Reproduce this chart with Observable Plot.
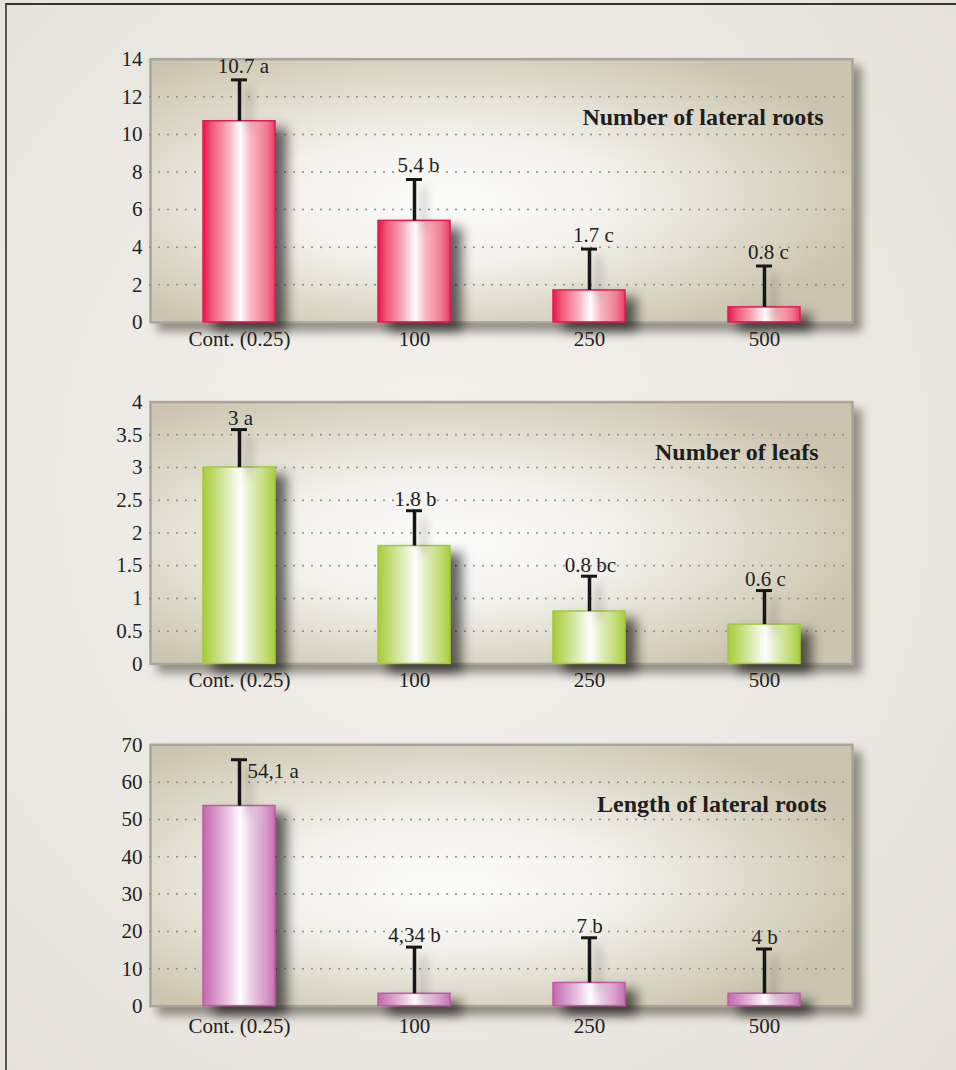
<!DOCTYPE html>
<html><head><meta charset="utf-8">
<script src="https://cdn.jsdelivr.net/npm/d3@7"></script>
<script src="https://cdn.jsdelivr.net/npm/@observablehq/plot@0.6"></script>
<style>
html,body{margin:0;padding:0;}
body{width:956px;height:1070px;overflow:hidden;position:relative;
  background:radial-gradient(ellipse at 45% 45%, #f4f2ee 0%, #ece9e3 55%, #e4e0d9 100%);
  font-family:"Liberation Serif",serif;}
#border{position:absolute;left:5px;top:3px;right:0;bottom:0;border-left:2px solid #555;border-top:2px solid #333;}
.panel{position:absolute;left:0;}
</style></head><body>
<div id="border"></div>
<svg width="0" height="0" style="position:absolute">
<defs>
  <linearGradient id="gRed" x1="0" x2="1" y1="0" y2="0">
    <stop offset="0" stop-color="#e8154c"/>
    <stop offset="0.12" stop-color="#ef5877"/>
    <stop offset="0.36" stop-color="#f8b4c0"/>
    <stop offset="0.52" stop-color="#ffffff"/>
    <stop offset="0.66" stop-color="#f8b8c3"/>
    <stop offset="0.88" stop-color="#f07c92"/>
    <stop offset="1" stop-color="#ea3d65"/>
  </linearGradient>
  <linearGradient id="gGreen" x1="0" x2="1" y1="0" y2="0">
    <stop offset="0" stop-color="#a6cc3a"/>
    <stop offset="0.14" stop-color="#bcd96a"/>
    <stop offset="0.36" stop-color="#e1eebf"/>
    <stop offset="0.52" stop-color="#ffffff"/>
    <stop offset="0.66" stop-color="#e3efc2"/>
    <stop offset="0.88" stop-color="#bfdb70"/>
    <stop offset="1" stop-color="#a8ce40"/>
  </linearGradient>
  <linearGradient id="gPurple" x1="0" x2="1" y1="0" y2="0">
    <stop offset="0" stop-color="#c468ae"/>
    <stop offset="0.14" stop-color="#d18dc3"/>
    <stop offset="0.36" stop-color="#ebc9e4"/>
    <stop offset="0.52" stop-color="#ffffff"/>
    <stop offset="0.66" stop-color="#ecd0e6"/>
    <stop offset="0.88" stop-color="#d598c8"/>
    <stop offset="1" stop-color="#c66fb1"/>
  </linearGradient>
  <radialGradient id="gBg" cx="0.42" cy="0.5" r="0.62" fx="0.42" fy="0.55">
    <stop offset="0" stop-color="#fcfcfb"/>
    <stop offset="0.4" stop-color="#f3f1ec"/>
    <stop offset="0.75" stop-color="#dcd7c7"/>
    <stop offset="1" stop-color="#cbc5af"/>
  </radialGradient>
</defs></svg>
<div id="p1" class="panel" style="top:0px"></div>
<div id="p2" class="panel" style="top:350px"></div>
<div id="p3" class="panel" style="top:700px"></div>
<script>
const categories = ["Cont. (0.25)", "100", "250", "500"];

const lateralRootsMean = [10.7, 5.4, 1.7, 0.8];
const lateralRootsErrTop = [12.9, 7.6, 3.9, 3.0];
const lateralRootsLabels = ["10.7 a", "5.4 b", "1.7 c", "0.8 c"];
const lateralRootsTicks = [0, 2, 4, 6, 8, 10, 12, 14];

const leafsMean = [3.0, 1.8, 0.8, 0.6];
const leafsErrTop = [3.58, 2.34, 1.34, 1.12];
const leafsLabels = ["3 a", "1.8 b", "0.8 bc", "0.6 c"];
const leafsTicks = [0, 0.5, 1, 1.5, 2, 2.5, 3, 3.5, 4];

const lengthMean = [53.6, 3.3, 6.2, 3.3];
const lengthErrTop = [66, 15.8, 18.3, 15.3];
const lengthLabels = ["54,1 a", "4,34 b", "7 b", "4 b"];
const lengthTicks = [0, 10, 20, 30, 40, 50, 60, 70];

const titles = ["Number of lateral roots", "Number of leafs", "Length of lateral roots"];

const FS = 21;

function panel(o) {
  const data = categories.map((c, i) => ({cat: c, mean: o.mean[i], err: o.err[i], label: o.labels[i]}));
  const mainLabels = o.firstBeside ? data.slice(1) : data;
  const marks = [
    Plot.frame({fill: "url(#gBg)", stroke: "#a9a59d", strokeWidth: 2.5}),
    Plot.gridY(o.ticks.slice(1, -1), {stroke: "#8c8882", strokeOpacity: 1, strokeWidth: 2, strokeDasharray: "0 9", strokeLinecap: "round"}),
    Plot.barY(data, {x: "cat", y: "mean", fill: o.grad, stroke: o.stroke, strokeWidth: 1.5}),
    Plot.ruleX(data, {x: "cat", y1: "mean", y2: "err", stroke: "#161616", strokeWidth: 3.5}),
    Plot.tickY(data, {x: "cat", y: "err", stroke: "#161616", strokeWidth: 3, insetLeft: 28, insetRight: 28}),
    Plot.text(mainLabels, {x: "cat", y: "err", text: "label", dx: o.labelDx, dy: o.labelDy, fill: "#222", fontSize: FS}),
    Plot.axisY(o.ticks, {tickSize: 0, tickPadding: 8, label: null, fontSize: FS, fill: "#222", tickFormat: d => String(d)}),
    Plot.axisX(categories, {tickSize: 0, tickPadding: o.xPad, label: null, fontSize: FS, fill: "#222"}),
    Plot.text([o.title], {frameAnchor: "top-right", textAnchor: "end", lineAnchor: "middle", dx: o.titleDx, dy: o.titleDy, fontWeight: "bold", fontSize: 24, fill: "#1e1e1e"})
  ];
  if (o.firstBeside) {
    marks.push(Plot.text(data.slice(0, 1), {x: "cat", y: "err", text: "label", textAnchor: "start", dx: 8, dy: 12, fill: "#222", fontSize: FS}));
  }
  const p = Plot.plot({
    width: 956, height: o.height,
    marginLeft: 150, marginRight: 104, marginTop: o.marginTop, marginBottom: o.marginBottom,
    style: {fontFamily: "'Liberation Serif', 'Times New Roman', serif", fontSize: FS + "px", color: "#222", background: "transparent", overflow: "visible"},
    x: {domain: categories, paddingInner: 0.59, paddingOuter: 0.295},
    y: {domain: [0, o.yMax]},
    marks
  });
  const fr = p.querySelector('[aria-label="frame"]');
  if (fr) fr.style.filter = "drop-shadow(8px 8px 5px rgba(70,65,55,0.55))";
  const bars = p.querySelector('[aria-label="bar"]');
  if (bars) bars.style.filter = "drop-shadow(11px 8px 6px rgba(0,0,0,0.6))";
  const rules = p.querySelector('[aria-label="rule"]');
  if (rules) rules.style.filter = "drop-shadow(9px 8px 5px rgba(0,0,0,0.3))";
  document.getElementById(o.el).appendChild(p);
}

panel({el: "p1", height: 370, marginTop: 58.7, marginBottom: 48.1, yMax: 14, ticks: lateralRootsTicks,
  mean: lateralRootsMean, err: lateralRootsErrTop, labels: lateralRootsLabels, title: titles[0],
  grad: "url(#gRed)", stroke: "#e8174f", labelDx: 4, labelDy: -14, xPad: 9, titleDx: -29, titleDy: 58});
panel({el: "p2", height: 360, marginTop: 51.6, marginBottom: 46.6, yMax: 4, ticks: leafsTicks,
  mean: leafsMean, err: leafsErrTop, labels: leafsLabels, title: titles[1],
  grad: "url(#gGreen)", stroke: "#a2c93a", labelDx: 1, labelDy: -11, xPad: 8.6, titleDx: -34, titleDy: 50});
panel({el: "p3", height: 370, marginTop: 44.3, marginBottom: 64.4, yMax: 70, ticks: lengthTicks,
  mean: lengthMean, err: lengthErrTop, labels: lengthLabels, title: titles[2],
  grad: "url(#gPurple)", stroke: "#c25aa7", labelDx: 0, labelDy: -12, xPad: 12, titleDx: -26, titleDy: 60, firstBeside: true});
</script>
</body></html>
